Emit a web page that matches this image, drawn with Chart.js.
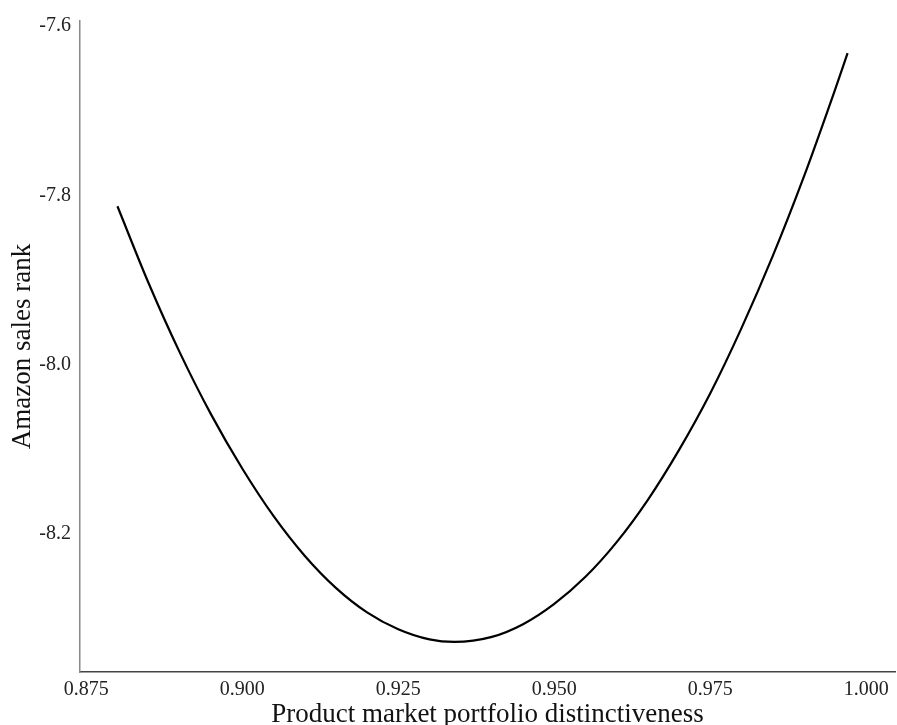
<!DOCTYPE html>
<html>
<head>
<meta charset="utf-8">
<script src="https://cdn.jsdelivr.net/npm/chart.js@4"></script>
<style>
  html, body { margin: 0; padding: 0; background: #fff; }
  #wrap { width: 897px; height: 725px; }
</style>
</head>
<body>
<div id="wrap"><canvas id="charts" width="897" height="725"></canvas></div>
<script>
// values
var xs = [0.880, 0.885, 0.890, 0.895, 0.900, 0.905, 0.910, 0.915, 0.920, 0.925, 0.930, 0.934,
          0.940, 0.945, 0.950, 0.955, 0.960, 0.965, 0.970, 0.975, 0.980, 0.985, 0.990, 0.995, 0.997];
var ys = [-7.813, -7.904, -7.986, -8.059, -8.123, -8.179, -8.226, -8.264, -8.293, -8.313, -8.325, -8.328,
          -8.322, -8.307, -8.283, -8.251, -8.210, -8.160, -8.101, -8.034, -7.957, -7.872, -7.778, -7.675, -7.632];
var xTicks = [0.875, 0.900, 0.925, 0.950, 0.975, 1.000];
var yTicks = [-7.6, -7.8, -8.0, -8.2];

var points = xs.map(function (x, i) { return { x: x, y: ys[i] }; });
var serif = "'Liberation Serif', 'DejaVu Serif', serif";

var ctx = document.getElementById("charts");
new Chart(ctx, {
    type: 'line',
    data: {
        datasets: [{
            data: points,
            borderColor: '#000',
            borderWidth: 2.2,
            pointRadius: 0,
            fill: false,
            cubicInterpolationMode: 'monotone'
        }]
    },
    options: {
        responsive: false,
        animation: false,
        layout: { padding: { top: 17, right: 2, left: 0, bottom: 0 } },
        plugins: { legend: { display: false }, tooltip: { enabled: false } },
        scales: {
            x: {
                type: 'linear',
                min: 0.874,
                max: 1.0046,
                grid: { display: false, drawTicks: false },
                border: { display: true, color: '#444', width: 1.5 },
                afterBuildTicks: function (s) { s.ticks = xTicks.map(function (v) { return { value: v }; }); },
                afterFit: function (s) { s.height = 53; },
                ticks: {
                    padding: 6,
                    color: '#222',
                    maxRotation: 0,
                    font: { family: serif, size: 20 },
                    callback: function (v) { return v.toFixed(3); }
                },
                title: {
                    display: true,
                    text: 'Product market portfolio distinctiveness',
                    color: '#111',
                    padding: { top: 0, bottom: -3 },
                    font: { family: serif, size: 27, lineHeight: 1 }
                }
            },
            y: {
                type: 'linear',
                min: -8.3635,
                max: -7.594,
                grid: { display: false, drawTicks: false },
                border: { display: true, color: '#888', width: 1.5 },
                afterBuildTicks: function (s) { s.ticks = yTicks.map(function (v) { return { value: v }; }); },
                afterFit: function (s) { s.width = 80; },
                ticks: {
                    padding: 9,
                    color: '#222',
                    font: { family: serif, size: 20 },
                    callback: function (v) { return v.toFixed(1); }
                },
                title: {
                    display: true,
                    text: 'Amazon sales rank',
                    color: '#111',
                    padding: { top: 9, bottom: 0 },
                    font: { family: serif, size: 27, lineHeight: 1 }
                }
            }
        }
    }
});
</script>
</body>
</html>
